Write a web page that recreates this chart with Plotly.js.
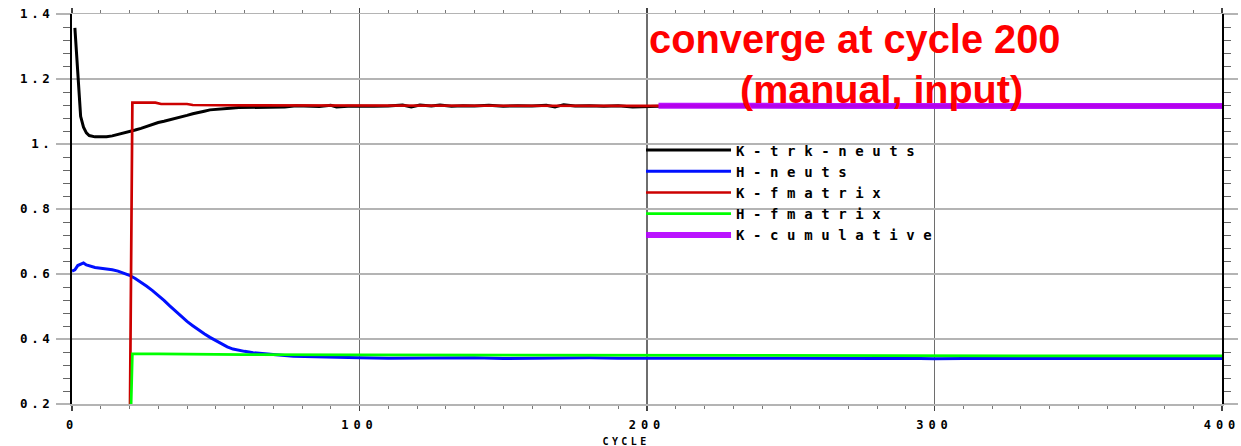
<!DOCTYPE html>
<html>
<head>
<meta charset="utf-8">
<script src="https://cdn.plot.ly/plotly-3.0.1.min.js"></script>
<style>
  html, body { margin: 0; padding: 0; background: #fff; }
  #chart { width: 1241px; height: 446px; }
  .ytick text { letter-spacing: 3.6px; }
  .xtick text { letter-spacing: 5px; }
  .legendtext { letter-spacing: 8.6px; }
  g.annotation[data-index="2"] text { letter-spacing: 3.4px; }
</style>
</head>
<body>
<div id="chart"></div>
<script>
// ---- data ----
const seriesNames = ['K-trk-neuts', 'H-neuts', 'K-fmatrix', 'H-fmatrix', 'K-cumulative'];

const kTrkCycles = [1,2,3,4,5,6,7,8,10,12,14,16,18,20,22,24,26,28,30,32,34,36,38,40,42,44,46,48,50,52,55,58,62,66,70,74,78,82,86,90,92,96,100,105,110,115,118,121,125,128,132,136,140,145,150,155,160,165,168,171,175,180,185,190,195,200,205,210,220,230,240,250,260,270,280,290,300,310,320,330,340,350,360,370,380,390,400];
const kTrkValues = [1.357,1.220,1.085,1.052,1.034,1.026,1.023,1.022,1.022,1.022,1.025,1.029,1.034,1.039,1.043,1.048,1.054,1.061,1.066,1.070,1.074,1.079,1.083,1.088,1.093,1.098,1.101,1.105,1.107,1.109,1.110,1.112,1.112,1.113,1.112,1.114,1.118,1.116,1.115,1.119,1.114,1.116,1.117,1.116,1.117,1.120,1.114,1.120,1.117,1.120,1.116,1.118,1.117,1.119,1.116,1.118,1.117,1.119,1.114,1.121,1.117,1.118,1.116,1.118,1.114,1.116,1.117,1.118,1.116,1.118,1.117,1.116,1.118,1.117,1.116,1.118,1.117,1.116,1.118,1.117,1.116,1.118,1.117,1.116,1.118,1.117,1.117];

const hNeutsCycles = [0,1,2,3,4,5,6,7,8,10,12,14,16,18,20,22,24,26,28,30,32,34,36,38,40,42,44,46,48,50,52,54,56,58,60,63,66,70,77,84,90,95,100,110,120,130,140,150,160,170,180,190,200,210,220,230,240,250,260,270,280,290,300,310,320,330,340,350,360,370,380,390,400];
const hNeutsValues = [0.609,0.613,0.626,0.630,0.634,0.628,0.625,0.621,0.620,0.618,0.616,0.613,0.609,0.603,0.596,0.586,0.575,0.562,0.549,0.535,0.519,0.502,0.485,0.469,0.454,0.441,0.428,0.416,0.405,0.395,0.385,0.376,0.369,0.365,0.362,0.358,0.355,0.352,0.347,0.345,0.344,0.343,0.342,0.341,0.342,0.341,0.342,0.340,0.341,0.341,0.342,0.341,0.340,0.341,0.341,0.340,0.341,0.341,0.340,0.341,0.340,0.341,0.339,0.340,0.340,0.339,0.340,0.339,0.339,0.340,0.340,0.339,0.340];

const kFmatrixCycles = [20,21,29,31,40,42,60,100,150,200,250,300,350,400];
const kFmatrixValues = [0.0,1.127,1.127,1.123,1.123,1.120,1.119,1.118,1.118,1.117,1.117,1.117,1.117,1.117];

const hFmatrixCycles = [20,21,30,40,60,100,150,200,250,300,350,400];
const hFmatrixValues = [0.0,0.354,0.354,0.353,0.352,0.351,0.350,0.349,0.349,0.348,0.348,0.348];

const kCumCycles = [204,220,260,300,340,400];
const kCumValues = [1.118,1.117,1.117,1.117,1.117,1.117];

const xTickValues = [0,100,200,300,400];
const xTickLabels = ['0','100','200','300','400'];
const yTickValues = [0.2,0.4,0.6,0.8,1.0,1.2,1.4];
const yTickLabels = ['0.2','0.4','0.6','0.8','1.','1.2','1.4'];

const noteLine1 = 'converge at cycle 200';
const noteLine2 = '(manual, input)';
const xTitle = 'CYCLE';

// ---- styling ----
const colors = ['#000000', '#0010ff', '#cc0000', '#00ff00', '#b400ff'];
const widths = [3, 3, 2.7, 2.7, 6];
const xs = [kTrkCycles, hNeutsCycles, kFmatrixCycles, hFmatrixCycles, kCumCycles];
const ys = [kTrkValues, hNeutsValues, kFmatrixValues, hFmatrixValues, kCumValues];

const traces = seriesNames.map((name, i) => ({
  type: 'scatter',
  mode: 'lines',
  name: name,
  x: xs[i],
  y: ys[i],
  line: { color: colors[i], width: widths[i] },
  opacity: i === 4 ? 0.92 : 1
}));

const monoFont = { family: 'DejaVu Sans Mono, Liberation Mono, monospace', weight: 'bold', color: '#000' };

const layout = {
  width: 1241,
  height: 446,
  margin: { l: 72, r: 19, t: 14, b: 42 },
  paper_bgcolor: '#fff',
  plot_bgcolor: '#fff',
  showlegend: true,
  legend: {
    x: 0.4948, xanchor: 'left',
    y: 0.691, yanchor: 'top',
    bgcolor: 'rgba(0,0,0,0)',
    borderwidth: 0,
    itemwidth: 85,
    font: Object.assign({ size: 14 }, monoFont),
    tracegroupgap: 0
  },
  xaxis: {
    range: [0, 400],
    tickvals: xTickValues,
    ticktext: xTickLabels,
    showgrid: true,
    gridcolor: '#6e6e6e',
    gridwidth: 1.5,
    zeroline: false,
    showline: true,
    linecolor: '#b4b4b4',
    linewidth: 1.5,
    mirror: 'ticks',
    ticks: 'outside',
    ticklen: 5,
    tickwidth: 1.5,
    tickcolor: '#444',
    ticklabelstandoff: 4,
    tickfont: Object.assign({ size: 12 }, monoFont),
    minor: { dtick: 10, tick0: 0, ticks: 'outside', ticklen: 3, tickcolor: '#777', tickwidth: 1, showgrid: false },
    fixedrange: true
  },
  yaxis: {
    range: [0.2, 1.4],
    tickvals: yTickValues,
    ticktext: yTickLabels,
    showgrid: true,
    gridcolor: '#b4b4b4',
    gridwidth: 1.5,
    zeroline: false,
    showline: true,
    linecolor: '#000',
    linewidth: 2,
    mirror: 'ticks',
    ticks: 'outside',
    ticklen: 14,
    tickwidth: 1.5,
    tickcolor: '#b4b4b4',
    ticklabelstandoff: 0,
    tickfont: Object.assign({ size: 12.5 }, monoFont),
    minor: { dtick: 0.04, tick0: 0.2, ticks: 'outside', ticklen: 7, tickcolor: '#666', tickwidth: 1, showgrid: false },
    fixedrange: true
  },
  annotations: [
    { text: noteLine1, xref: 'paper', yref: 'paper', x: 0.681, y: 0.935, xanchor: 'center', yanchor: 'middle', showarrow: false,
      font: { family: 'Liberation Sans, Arial, sans-serif', size: 39.8, weight: 'bold', color: '#ff0000' } },
    { text: noteLine2, xref: 'paper', yref: 'paper', x: 0.7035, y: 0.808, xanchor: 'center', yanchor: 'middle', showarrow: false,
      font: { family: 'Liberation Sans, Arial, sans-serif', size: 39.5, weight: 'bold', color: '#ff0000' } },
    { text: xTitle, xref: 'paper', yref: 'paper', x: 0.467, y: -0.095, xanchor: 'left', yanchor: 'middle', showarrow: false,
      font: Object.assign({ size: 10 }, monoFont) }
  ]
};

Plotly.newPlot('chart', traces, layout, { staticPlot: true, displayModeBar: false });
</script>
</body>
</html>
